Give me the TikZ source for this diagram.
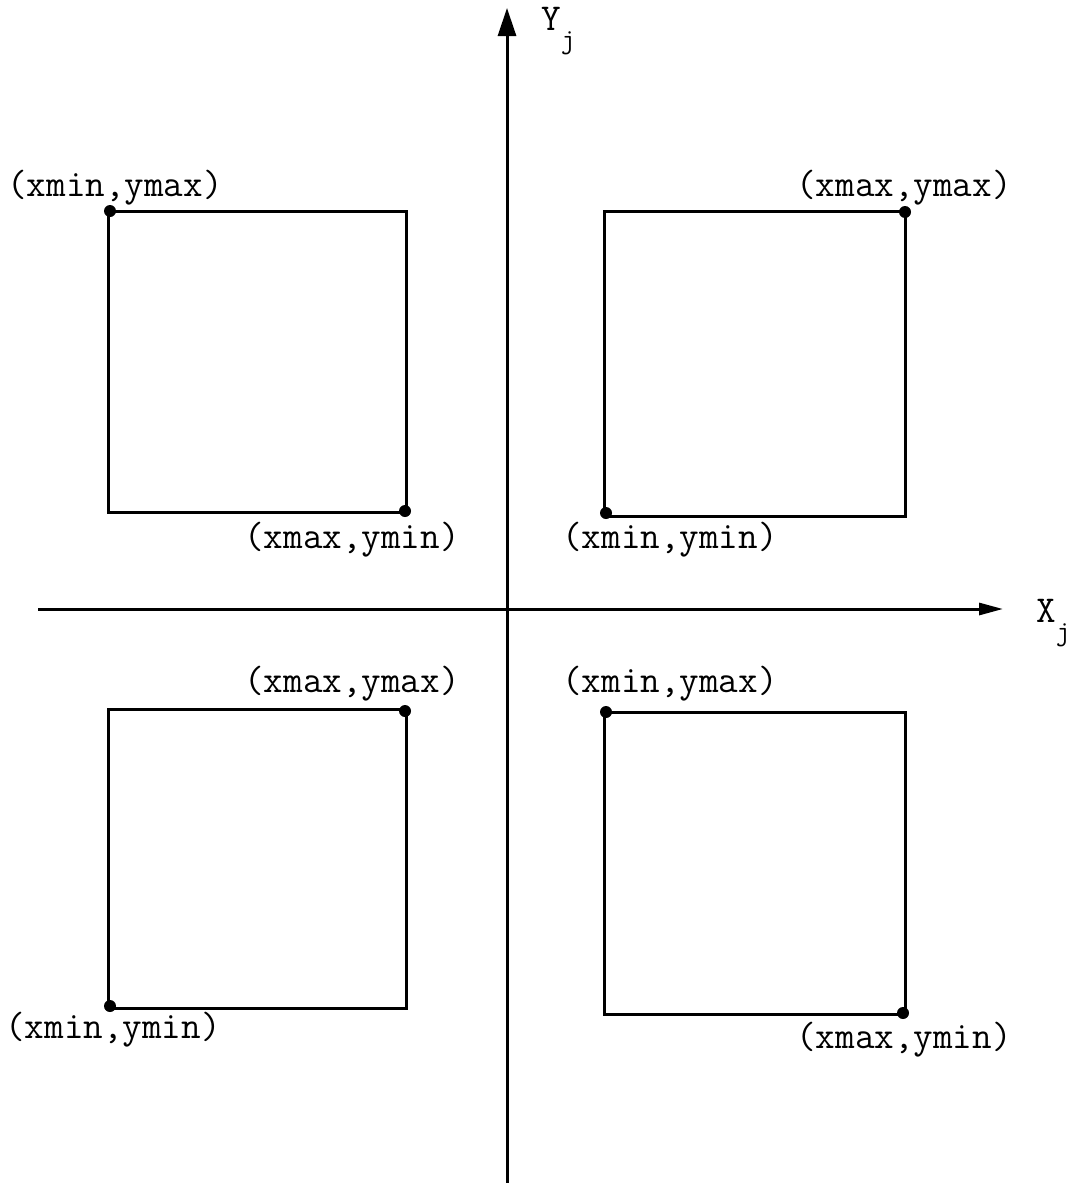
\documentclass[tikz,border=0pt]{standalone}
\usepackage{fontspec}
\usetikzlibrary{arrows.meta}
\begin{document}
\begin{tikzpicture}[x=0.5pt,y=-0.5pt,
  edge/.style={line width=1.5pt},
  axis/.style={line width=1.5pt},
  corner/.style={circle,fill=black,inner sep=0pt,minimum size=6pt},
  lbl/.style={font=\ttfamily\fontsize{19}{21}\selectfont,inner sep=0pt},
  axlbl/.style={font=\ttfamily\fontsize{19}{21}\selectfont,inner sep=0pt}]
\useasboundingbox (0,0) rectangle (1082,1183);
% axes
\coordinate (ybot) at (507,1183);
\coordinate (ytop) at (507,8);
\coordinate (xl) at (38,609);
\coordinate (xr) at (1003,609);
\draw[axis,-{Triangle[length=14pt,width=9pt]}] (ybot) -- (ytop);
\draw[axis,-{Triangle[length=12pt,width=6pt]}] (xl) -- (xr);
\node[axlbl,anchor=base west] (Y) at (541,30) {Y\raisebox{-1.1ex}{\fontsize{14}{16}\selectfont j}};
\node[axlbl,anchor=base west] (X) at (1036,622) {X\raisebox{-1.1ex}{\fontsize{14}{16}\selectfont j}};
% top-left box
\draw[edge] (108,211) rectangle (406,512);
\node[corner] (a1) at (110,211) {};
\node[corner] (a2) at (405,511) {};
\node[lbl] (la1) at (115,188) {(xmin,ymax)};
\node[lbl] (la2) at (352,540) {(xmax,ymin)};
% top-right box
\draw[edge] (604,211) rectangle (905,516);
\node[corner] (b1) at (905,212) {};
\node[corner] (b2) at (606,513) {};
\node[lbl] (lb1) at (904,188) {(xmax,ymax)};
\node[lbl] (lb2) at (670,540) {(xmin,ymin)};
% bottom-left box
\draw[edge] (108,709) rectangle (406,1008);
\node[corner] (c1) at (405,711) {};
\node[corner] (c2) at (110,1006) {};
\node[lbl] (lc1) at (352,684) {(xmax,ymax)};
\node[lbl] (lc2) at (113,1030) {(xmin,ymin)};
% bottom-right box
\draw[edge] (604,712) rectangle (905,1014);
\node[corner] (d1) at (606,712) {};
\node[corner] (d2) at (903,1013) {};
\node[lbl] (ld1) at (670,684) {(xmin,ymax)};
\node[lbl] (ld2) at (904,1040) {(xmax,ymin)};
\end{tikzpicture}
\end{document}
